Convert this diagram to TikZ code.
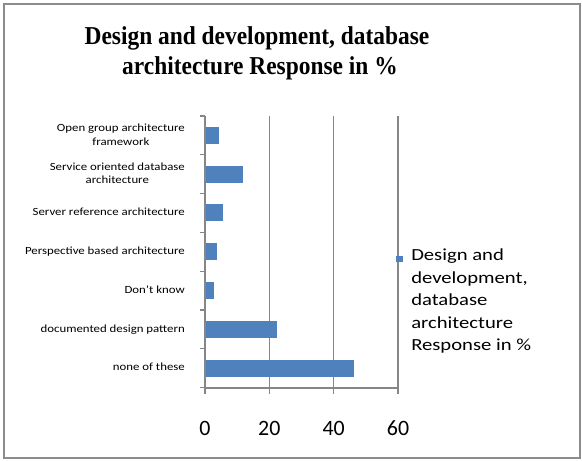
\documentclass[tikz,border=0pt]{standalone}
\usepackage{fontspec}
\setmainfont{Carlito}
\newfontfamily\titlefont{Liberation Serif}
\definecolor{barblue}{HTML}{4F81BD}
\definecolor{gridgray}{HTML}{868686}
\definecolor{framegray}{HTML}{8C8C8C}
\newcommand{\catbox}[1]{\scalebox{1.17}[1]{\begin{tabular}{@{}c@{}}#1\end{tabular}}}
\begin{document}
\begin{tikzpicture}[x=1bp,y=-1bp,
  frame/.style={draw=framegray,line width=2bp},
  gridln/.style={draw=gridgray,line width=1.3bp},
  axisln/.style={draw=gridgray,line width=1.3bp},
  barrect/.style={fill=barblue,draw=none},
  catlabel/.style={anchor=east,inner sep=0pt,font=\fontsize{11}{14}\selectfont},
  ticklabel/.style={anchor=center,inner sep=0pt,font=\fontsize{22}{22}\selectfont},
  titletext/.style={anchor=base,inner sep=0pt,font=\titlefont\bfseries\fontsize{23.5}{30}\selectfont,yscale=1.1,transform shape},
  legendtext/.style={anchor=north west,align=left,inner sep=0pt,font=\fontsize{17}{22.5}\selectfont,xscale=1.22,transform shape}
]
\useasboundingbox (0,0) rectangle (582,461);
\draw[frame] (4,4) rectangle (579.5,457.5);
% title
\node[titletext] (t1) at (257,45) {Design and development, database};
\node[titletext] (t2) at (260,75) {architecture Response in \%};
% gridlines
\foreach \v in {20,40,60} {
  \draw[gridln] ({205+\v*3.217},116) -- ({205+\v*3.217},388);
}
% bars
\foreach \val [count=\i from 0] in {4.3,11.8,5.6,3.7,2.9,22.4,46.4} {
  \fill[barrect] (205,{116+38.8*(\i+0.5)-8.5}) rectangle ({205+\val*3.217},{116+38.8*(\i+0.5)+8.5});
}
% axes
\draw[axisln] (205,116) -- (205,388) -- (398,388);
\foreach \k in {0,...,7} {
  \draw[axisln] (200,{116+38.8*\k}) -- (205,{116+38.8*\k});
}
\foreach \v in {0,20,40,60} {
  \draw[axisln] ({205+\v*3.217},388) -- ({205+\v*3.217},394);
  \node[ticklabel] (tl\v) at ({205+\v*3.217},428) {\v};
}
% category labels
\node[catlabel] (c0) at (185,135.4) {\catbox{Open group architecture\\framework}};
\node[catlabel] (c1) at (185,174.2) {\catbox{Service oriented database\\architecture}};
\node[catlabel] (c2) at (185,213.0) {\catbox{Server reference architecture}};
\node[catlabel] (c3) at (185,251.8) {\catbox{Perspective based architecture}};
\node[catlabel] (c4) at (185,290.6) {\catbox{Don’t know}};
\node[catlabel] (c5) at (185,329.4) {\catbox{documented design pattern}};
\node[catlabel] (c6) at (185,368.2) {\catbox{none of these}};
% legend
\fill[barblue] (396,256) rectangle (402.5,262.5);
\node[legendtext] (leg) at (411,249) {Design and\\development,\\database\\architecture\\Response in \%};
\end{tikzpicture}
\end{document}
